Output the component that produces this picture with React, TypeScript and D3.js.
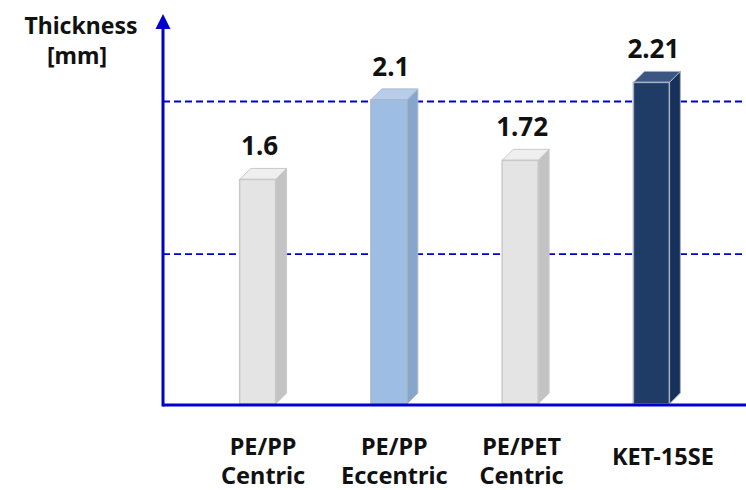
import React from "react";
import * as d3 from "d3";

const categories = ["PE/PP|Centric", "PE/PP|Eccentric", "PE/PET|Centric", "KET-15SE"];
const values = [1.6, 2.1, 1.72, 2.21];
const valueLabels = ["1.6", "2.1", "1.72", "2.21"];
const gridValues = [1.13, 2.09];
const axisTitle = ["Thickness", "[mm]"];

const palettes = [
  { front: "#e4e4e4", side: "#c3c3c3", top: "#efefef", stroke: "#c9c9c9" },
  { front: "#9dbde3", side: "#87a6cd", top: "#b7cdea", stroke: "#a9b9cc" },
  { front: "#e4e4e4", side: "#c3c3c3", top: "#efefef", stroke: "#c9c9c9" },
  { front: "#1f3c66", side: "#17325a", top: "#3b5681", stroke: "#a7b0bf" },
];

const W = 746;
const H = 490;
const axisX = 163;
const axisY = 405;
const axisTop = 14;
const DEPTH = 11;
const FONT = "'Noto Sans', 'Open Sans', sans-serif";
const BLUE = "#0000cc";

export default function App() {
  const x = d3
    .scaleBand<string>()
    .domain(categories)
    .range([192, 717])
    .paddingInner(0.726)
    .paddingOuter(0.363);
  const y = d3.scaleLinear().domain([0.182, 2.64]).range([axisY, axisTop]);
  const bw = x.bandwidth();

  return (
    <svg width={W} height={H} style={{ position: "absolute", left: 0, top: 0 }}>
      <rect width={W} height={H} fill="#fff" />
      {gridValues.map((g, i) => (
        <line
          key={i}
          x1={axisX}
          x2={W}
          y1={y(g)}
          y2={y(g)}
          stroke={BLUE}
          strokeWidth={1.8}
          strokeDasharray="7,4"
        />
      ))}
      {categories.map((c, i) => {
        const x0 = x(c)!;
        const x1 = x0 + bw;
        const yt = y(values[i]);
        const yb = axisY - 1;
        const p = palettes[i];
        const d = DEPTH;
        return (
          <g key={c}>
            <path
              d={`M${x1},${yt} L${x1 + d},${yt - d} L${x1 + d},${yb - d} L${x1},${yb} Z`}
              fill={p.side}
              stroke={p.stroke}
              strokeWidth={1}
            />
            <path
              d={`M${x0},${yt} L${x0 + d},${yt - d} L${x1 + d},${yt - d} L${x1},${yt} Z`}
              fill={p.top}
              stroke={p.stroke}
              strokeWidth={1}
            />
            <rect
              x={x0}
              y={yt}
              width={bw}
              height={yb - yt}
              fill={p.front}
              stroke={p.stroke}
              strokeWidth={1.5}
            />
            <text
              x={x0 + bw / 2 + 2}
              y={yt - d - 13}
              textAnchor="middle"
              fontFamily={FONT}
              fontWeight={700}
              fontSize={26}
              fill="#111"
            >
              {valueLabels[i]}
            </text>
          </g>
        );
      })}
      {/* axes */}
      <line x1={axisX} x2={W} y1={axisY} y2={axisY} stroke={BLUE} strokeWidth={3} />
      <line x1={axisX} x2={axisX} y1={axisY + 1.5} y2={axisTop + 10} stroke={BLUE} strokeWidth={3} />
      <path
        d={`M${axisX},${axisTop} L${axisX - 7.5},${axisTop + 15} L${axisX + 7.5},${axisTop + 15} Z`}
        fill={BLUE}
      />
      {/* axis title */}
      <text textAnchor="middle" fontFamily={FONT} fontWeight={700} fontSize={23} fill="#111">
        <tspan x={81} y={34}>{axisTitle[0]}</tspan>
        <tspan x={77} y={64}>{axisTitle[1]}</tspan>
      </text>
      {/* category labels */}
      {categories.map((c, i) => {
        const lines = c.split("|");
        const cx = x(c)! + (bw + DEPTH) / 2 + (i === 2 ? -4 : 0);
        return (
          <text
            key={c}
            textAnchor="middle"
            fontFamily={FONT}
            fontWeight={700}
            fontSize={23.5}
            fill="#111"
          >
            {lines.length === 1 ? (
              <tspan x={cx + 6} y={465}>{lines[0]}</tspan>
            ) : (
              lines.map((l, k) => (
                <tspan key={k} x={cx} y={455 + k * 29}>
                  {l}
                </tspan>
              ))
            )}
          </text>
        );
      })}
    </svg>
  );
}
